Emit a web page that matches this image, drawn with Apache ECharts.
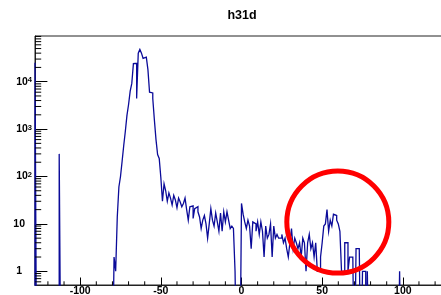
<!DOCTYPE html>
<html>
<head>
<meta charset="utf-8">
<style>
html,body{margin:0;padding:0;background:#fff;}
#c{width:441px;height:295px;}
</style>
<script src="https://cdn.jsdelivr.net/npm/echarts@6/dist/echarts.min.js"></script>
</head>
<body>
<div id="c"></div>
<script>
// ---------------- data ----------------
const chartTitle = 'h31d';
const xRange = [-128, 128];          // histogram axis range (1 unit bins)
const yRange = [0.514, 92000];       // log-scale range of the pad
const xMinorTicks = [-120,-110,-90,-80,-70,-60,-40,-30,-20,-10,10,20,30,40,60,70,80,90,110,120];
const yMajorTicks = [1, 10, 100, 1000, 10000];
const yTickLabels = ['1', '10', '10^2', '10^3', '10^4'];
const yMinorTicks = [0.6,0.7,0.8,0.9, 2,3,4,5,6,7,8,9, 20,30,40,50,60,70,80,90,
                     200,300,400,500,600,700,800,900, 2000,3000,4000,5000,6000,7000,8000,9000,
                     20000,30000,40000,50000,60000,70000,80000,90000];
// isolated filled bins (bin low edge -> content)
const isolatedBins = [-128, -113, 98];
const isolatedCounts = [25000, 300, 1];
// contiguous block of bins starting at low edge -79
const mainStart = -79;
const mainCounts = [
  2, 1, 14, 60, 100, 210, 450, 900, 1950, 3300,          // -79..-70
  6300, 9200, 24000, 24500, 4400, 40000, 48000, 40000, 31000, 33000, // -69..-60
  30000, 18000, 6000, 5800, 4400, 1560, 600, 290, 240, 95, // -59..-50
  30, 70, 50, 30, 45, 35, 25, 40, 32, 22,                // -49..-40
  35, 29, 23, 27, 35, 20, 12, 23, 24, 13,                // -39..-30
  21, 23, 18, 14, 8, 12, 15, 10, 5, 10,                  // -29..-20
  21, 12, 9, 17, 11, 7, 17, 7, 18, 11,                   // -19..-10
  18, 12, 8, 9, 8, 1, 0, 0, 0, 27,                       // -9..0
  16, 11, 8, 12, 9, 3, 11, 10, 7, 11,                    // 1..10
  6, 11, 7, 2, 9, 5, 6, 10, 2, 9,                        // 11..20
  5, 6, 5, 5, 6, 4, 5, 3, 2, 4,                          // 21..30
  8, 3, 5, 4, 3, 4, 2, 5, 4, 1,                          // 31..40
  4, 6, 3, 4, 2, 4, 1, 1, 2, 4,                          // 41..50
  9, 10, 20, 7, 12, 9, 16, 15, 12, 10,                   // 51..60
  7, 1, 1, 4, 4, 1, 2, 2, 2, 0,                          // 61..70
  3, 3, 3, 0, 1, 1, 0, 1                                 // 71..78
];
// annotation circle (data coordinates of its centre)
const circleCenter = [59.7, 10.9];

// ---------------- build ----------------
const nBins = xRange[1] - xRange[0];
const counts = new Array(nBins).fill(0);
mainCounts.forEach((c, i) => { counts[mainStart - xRange[0] + i] = c; });
isolatedBins.forEach((b, i) => { counts[b - xRange[0]] = isolatedCounts[i]; });
const floorVal = yRange[0] / 100;   // empty bins are drawn down past the frame bottom
// histogram outline: each bin contributes its low and high edge at its content
const stepData = [[xRange[0], floorVal]];
counts.forEach((c, i) => {
  const v = c > 0 ? c : floorVal;
  stepData.push([xRange[0] + i, v]);
  stepData.push([xRange[0] + i + 1, v]);
});
stepData.push([xRange[1], floorVal]);

const FONT = "'Liberation Sans', Arial, Helvetica, sans-serif";

function yLabel(v) {
  const i = yMajorTicks.findIndex(t => Math.abs(t - v) / t < 1e-6);
  if (i < 0) return '';
  const s = yTickLabels[i];
  if (s.indexOf('^') >= 0) {
    const p = s.split('^');
    return '{m|' + p[0] + '}{s|' + p[1] + '}';
  }
  return s.length === 1 ? '{a|' + s + '}' : '{b|' + s + '}';
}

const chart = echarts.init(document.getElementById('c'), null, {renderer: 'canvas'});
chart.setOption({
  animation: false,
  backgroundColor: '#ffffff',
  title: {
    text: chartTitle,
    left: 242, top: 9, padding: 0, textAlign: 'center',
    textStyle: {fontFamily: FONT, fontWeight: 'bold', fontSize: 12.5, color: '#000'}
  },
  grid: {
    left: 35, top: 36, width: 413, height: 249,
    outerBoundsMode: 'none', containLabel: false,
    show: true, borderColor: '#222', borderWidth: 1, backgroundColor: 'transparent'
  },
  xAxis: {
    type: 'value', min: xRange[0], max: xRange[1], splitNumber: 5,
    axisLine: {show: true, onZero: false, lineStyle: {color: '#222', width: 1}},
    axisTick: {show: true, inside: true, length: 7.5, lineStyle: {color: '#000', width: 1}},
    splitLine: {show: false},
    axisLabel: {
      show: true, margin: 1, color: '#000', fontFamily: FONT, fontWeight: 'bold', fontSize: 10.5,
      showMinLabel: false, showMaxLabel: false,
      formatter: v => (Math.abs(v % 50) < 1e-9 ? String(v) : '')
    }
  },
  yAxis: {
    type: 'log', logBase: 10, min: yRange[0], max: yRange[1],
    axisLine: {show: true, onZero: false, lineStyle: {color: '#222', width: 1}},
    axisTick: {show: true, inside: true, length: 12.4, lineStyle: {color: '#000', width: 1}},
    splitLine: {show: false},
    axisLabel: {
      show: true, margin: 3, color: '#000', fontFamily: FONT, fontWeight: 'bold', fontSize: 10.5,
      showMinLabel: false, showMaxLabel: false,
      formatter: yLabel,
      rich: {
        a: {fontFamily: FONT, fontWeight: 'bold', fontSize: 10.5, color: '#000', padding: [0, 10, 0, 0]},
        b: {fontFamily: FONT, fontWeight: 'bold', fontSize: 10.5, color: '#000', padding: [0, 7, 0, 0]},
        m: {fontFamily: FONT, fontWeight: 'bold', fontSize: 10.5, color: '#000', lineHeight: 11, verticalAlign: 'bottom'},
        s: {fontFamily: FONT, fontWeight: 'bold', fontSize: 7.5, color: '#000', lineHeight: 8, verticalAlign: 'top', padding: [0, 0, 5, 0]}
      }
    }
  },
  series: [
    {
      type: 'line', name: 'h31d', data: stepData,
      showSymbol: false, symbol: 'none', clip: true, silent: true, sampling: null,
      lineStyle: {color: '#0b0b99', width: 1.3, join: 'miter'}, z: 3
    },
    {
      type: 'custom', name: 'xminor', silent: true, clip: false, z: 4,
      data: xMinorTicks.map(v => [v, yRange[0]]),
      renderItem: (params, api) => {
        const p = api.coord([api.value(0), api.value(1)]);
        return {type: 'line', shape: {x1: p[0], y1: p[1], x2: p[0], y2: p[1] - 3.7},
                style: {stroke: '#000', lineWidth: 1}};
      }
    },
    {
      type: 'custom', name: 'yminor', silent: true, clip: false, z: 4,
      data: yMinorTicks.map(v => [xRange[0], v]),
      renderItem: (params, api) => {
        const p = api.coord([api.value(0), api.value(1)]);
        return {type: 'line', shape: {x1: p[0], y1: p[1], x2: p[0] + 6.2, y2: p[1]},
                style: {stroke: '#000', lineWidth: 1}};
      }
    },
    {
      type: 'scatter', name: 'mark', silent: true, z: 5,
      data: [circleCenter],
      symbol: 'circle', symbolSize: 102,
      itemStyle: {color: 'rgba(0,0,0,0)', borderColor: '#ff0000', borderWidth: 5, opacity: 1}
    }
  ]
});
</script>
</body>
</html>
